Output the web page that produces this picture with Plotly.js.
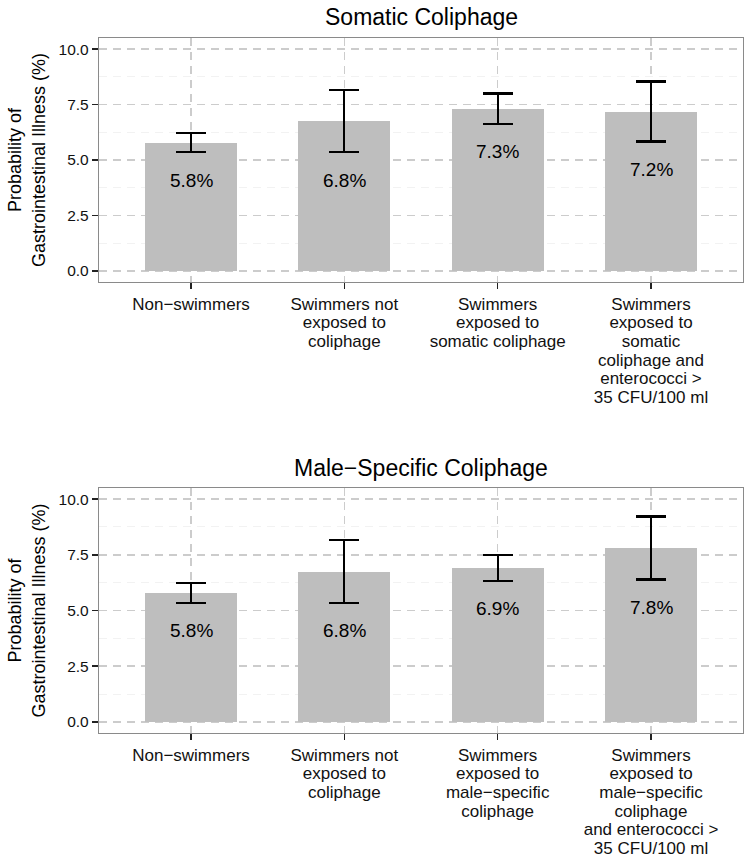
<!DOCTYPE html>
<html>
<head>
<meta charset="utf-8">
<script src="https://cdn.plot.ly/plotly-3.0.1.min.js"></script>
<style>html,body{margin:0;padding:0;background:#fff;}#chart{width:752px;height:861px;}</style>
</head>
<body>
<div id="chart"></div>
<script>
// ---- data ----
const panelTitles = ["Somatic Coliphage", "Male\u2212Specific Coliphage"];
const labelsSomatic = [
  "Non\u2212swimmers",
  "Swimmers not<br>exposed to<br>coliphage",
  "Swimmers<br>exposed to<br>somatic coliphage",
  "Swimmers<br>exposed to<br>somatic<br>coliphage and<br>enterococci ><br>35 CFU/100 ml"
];
const labelsMale = [
  "Non\u2212swimmers",
  "Swimmers not<br>exposed to<br>coliphage",
  "Swimmers<br>exposed to<br>male\u2212specific<br>coliphage",
  "Swimmers<br>exposed to<br>male\u2212specific<br>coliphage<br>and enterococci ><br>35 CFU/100 ml"
];
const valuesSomatic = [5.78, 6.75, 7.30, 7.17];
const upperSomatic  = [6.22, 8.15, 8.00, 8.54];
const lowerSomatic  = [5.35, 5.35, 6.64, 5.83];
const textSomatic   = ["5.8%", "6.8%", "7.3%", "7.2%"];

const valuesMale = [5.78, 6.73, 6.90, 7.79];
const upperMale  = [6.22, 8.15, 7.50, 9.22];
const lowerMale  = [5.35, 5.35, 6.33, 6.39];
const textMale   = ["5.8%", "6.8%", "6.9%", "7.8%"];

const yTicks = [0, 2.5, 5, 7.5, 10];
const yMinor = [1.25, 3.75, 6.25, 8.75];

// ---- build ----
const FONT = "Liberation Sans, Arial, Helvetica, sans-serif";
const pos = [0, 1, 2, 3];

function barTrace(vals, up, lo, xa, ya) {
  return {
    type: "bar", x: pos, y: vals, xaxis: xa, yaxis: ya, width: 0.6,
    marker: {color: "#bebebe", line: {width: 0}},
    error_y: {type: "data", symmetric: false,
      array: vals.map((v, i) => up[i] - v),
      arrayminus: vals.map((v, i) => v - lo[i]),
      color: "#000", thickness: 2.2, width: 15},
    hoverinfo: "skip", showlegend: false
  };
}

const data = [
  barTrace(valuesSomatic, upperSomatic, lowerSomatic, "x", "y"),
  barTrace(valuesMale, upperMale, lowerMale, "x2", "y2")
];

const GRID = "#cccccc";
function xAxis(labels, anchor) {
  return {
    anchor: anchor, range: [-0.6, 3.6], tickmode: "array", tickvals: pos, ticktext: labels,
    ticks: "outside", ticklen: 6, tickwidth: 1.6, tickcolor: "#222",
    showgrid: true, gridcolor: GRID, griddash: "8px,6px", gridwidth: 1.4,
    showline: true, linecolor: "#8a8a8a", linewidth: 1.2, mirror: true,
    zeroline: false, fixedrange: true,
    tickfont: {family: FONT, size: 17, color: "#111"}
  };
}
function yAxis(domain, anchor) {
  return {
    anchor: anchor, domain: domain, range: [-0.5, 10.5], tickmode: "array", tickvals: yTicks,
    tickformat: ".1f",
    ticks: "outside", ticklen: 6, tickwidth: 1.6, tickcolor: "#222",
    showgrid: true, gridcolor: GRID, griddash: "8px,6px", gridwidth: 1.4,
    minor: {tickmode: "array", tickvals: yMinor, showgrid: true, gridcolor: "#f2f2f2", gridwidth: 1, ticks: ""},
    showline: true, linecolor: "#8a8a8a", linewidth: 1.2, mirror: true,
    zeroline: false, fixedrange: true,
    tickfont: {family: FONT, size: 15.5, color: "#111"},
    title: {text: "Probability of<br>Gastrointestinal Illness (%)", standoff: 8,
            font: {family: FONT, size: 18, color: "#000"}}
  };
}

const annotations = [];
function addLabels(texts, lows, xa, ya) {
  texts.forEach((t, i) => annotations.push({
    x: pos[i], y: lows[i], xref: xa, yref: ya, text: t, showarrow: false,
    yanchor: "middle", yshift: -28, font: {family: FONT, size: 19, color: "#000"}
  }));
}
addLabels(textSomatic, lowerSomatic, "x", "y");
addLabels(textMale, lowerMale, "x2", "y2");

annotations.push({x: 0.5, y: 1.030, xref: "paper", yref: "paper", text: panelTitles[0],
  showarrow: false, xanchor: "center", yanchor: "middle", font: {family: FONT, size: 23, color: "#000"}});
annotations.push({x: 0.5, y: 0.381, xref: "paper", yref: "paper", text: panelTitles[1],
  showarrow: false, xanchor: "center", yanchor: "middle", font: {family: FONT, size: 23, color: "#000"}});

const layout = {
  width: 752, height: 861,
  margin: {l: 99, r: 9, t: 38, b: 128},
  paper_bgcolor: "#fff", plot_bgcolor: "#fff",
  bargap: 0,
  xaxis: xAxis(labelsSomatic, "y"),
  yaxis: yAxis([0.649, 1], "x"),
  xaxis2: xAxis(labelsMale, "y2"),
  yaxis2: yAxis([0, 0.3525], "x2"),
  annotations: annotations,
  showlegend: false
};

Plotly.newPlot("chart", data, layout, {displayModeBar: false, staticPlot: true}).then(function (gd) {
  // tighter line spacing for multi-line category labels (ggplot-like)
  gd.querySelectorAll(".xtick text, .x2tick text").forEach(function (t) {
    t.querySelectorAll("tspan.line").forEach(function (ts, i) {
      ts.setAttribute("dy", (i * 1.1) + "em");
    });
  });
});
</script>
</body>
</html>
